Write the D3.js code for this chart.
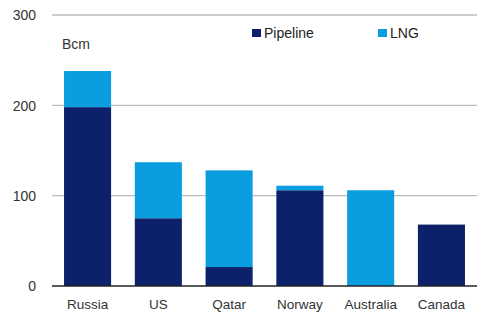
<!DOCTYPE html>
<html><head><meta charset="utf-8">
<script src="https://cdn.jsdelivr.net/npm/d3@7"></script>
<style>body{margin:0;background:#fff}text{font-family:"Liberation Sans",Arial,sans-serif}</style>
</head><body><svg id="c" width="495" height="330"></svg>
<script>
const categories = ["Russia","US","Qatar","Norway","Australia","Canada"];
const pipeline = [198, 75, 21, 106, 0, 68];
const lng = [40, 62, 107, 5, 106, 0];
const yTicks = [0, 100, 200, 300];
const seriesNames = ["Pipeline","LNG"];
const colors = ["#0c2169","#0a9de0"];

const svg = d3.select("#c");
const x = d3.scaleBand().domain(categories).range([52, 477]).paddingInner(0.335).paddingOuter(0.17);
const y = d3.scaleLinear().domain([0, 300]).range([286, 15]);

// gridlines
svg.append("g").selectAll("line").data(yTicks.filter(d => d > 0)).join("line")
  .attr("x1", 52).attr("x2", 477).attr("y1", d => y(d)).attr("y2", d => y(d))
  .attr("stroke", "#bdbdbd").attr("stroke-width", 1.3);

const stacked = d3.stack().keys([0,1]).value((d, k) => k === 0 ? pipeline[d] : lng[d])(categories.map((c,i)=>i));
svg.append("g").selectAll("g").data(stacked).join("g").attr("fill", (d,i) => colors[i])
  .selectAll("rect").data(d => d).join("rect")
  .attr("x", d => x(categories[d.data]))
  .attr("width", x.bandwidth())
  .attr("y", d => y(d[1]))
  .attr("height", d => y(d[0]) - y(d[1]));

// baseline
svg.append("line").attr("x1", 52).attr("x2", 477).attr("y1", y(0)).attr("y2", y(0))
  .attr("stroke", "#222").attr("stroke-width", 1.5);

// y axis labels
const yAxis = d3.axisLeft(y).tickValues(yTicks).tickSize(0).tickPadding(0);
const ga = svg.append("g").attr("transform", "translate(36,0)").call(yAxis);
ga.select(".domain").remove();
ga.selectAll("text").attr("font-size", 14).attr("fill", "#333").attr("font-family", "Liberation Sans, Arial, sans-serif").attr("dy", "0.35em");

// x axis labels
const xAxis = d3.axisBottom(x).tickSize(0).tickPadding(0);
const gx = svg.append("g").attr("transform", "translate(0,299)").call(xAxis);
gx.select(".domain").remove();
gx.selectAll("text").attr("font-size", 13.5).attr("fill", "#333").attr("font-family", "Liberation Sans, Arial, sans-serif").attr("dy", "0.71em");

// unit
svg.append("text").attr("x", 62).attr("y", 49).attr("font-size", 14).attr("fill", "#333").text("Bcm");

// legend
const lx = [252, 378];
seriesNames.forEach((n, i) => {
  svg.append("rect").attr("x", lx[i]).attr("y", 29).attr("width", 9).attr("height", 8).attr("fill", colors[i]);
  svg.append("text").attr("x", lx[i] + 12).attr("y", 37.5).attr("font-size", 14).attr("fill", "#222").text(n);
});
</script></body></html>
